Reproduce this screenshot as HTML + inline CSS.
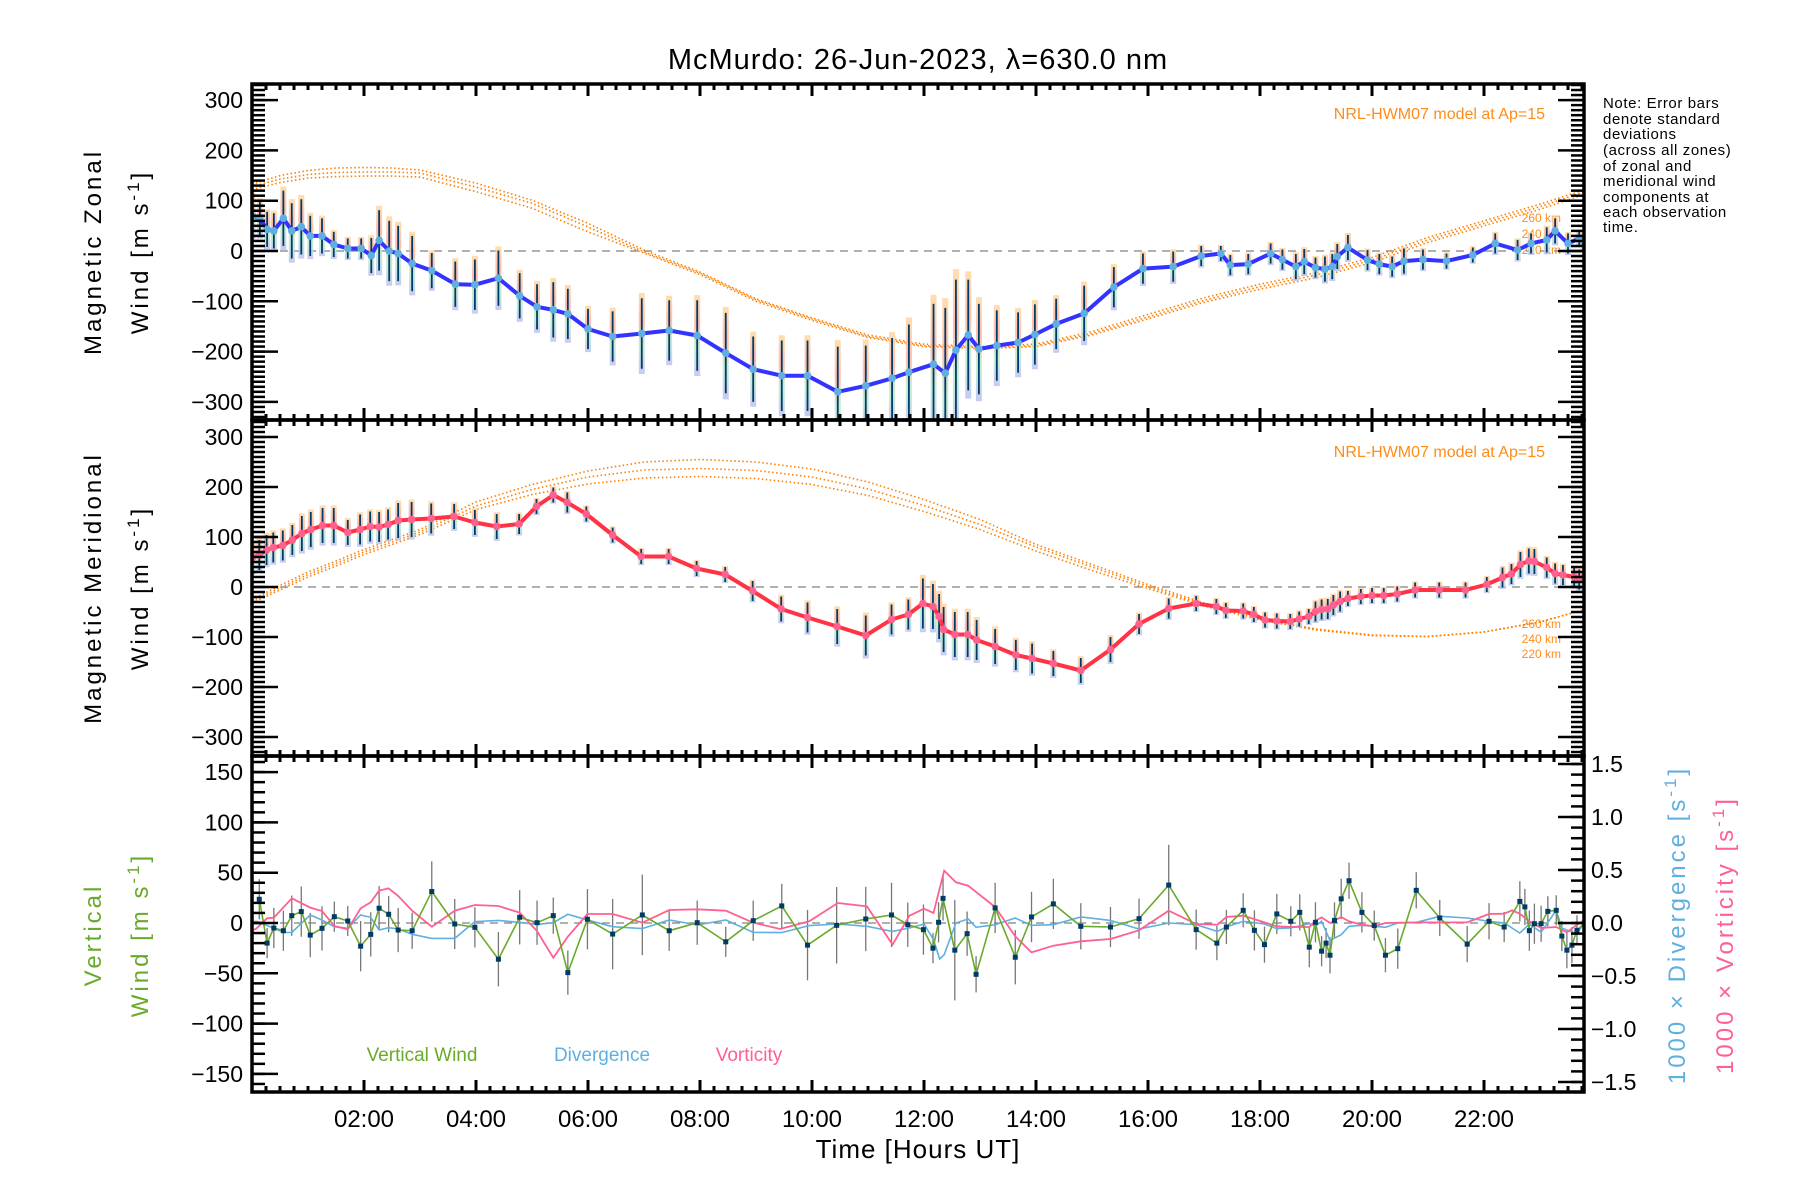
<!DOCTYPE html>
<html><head><meta charset="utf-8">
<style>
html,body{margin:0;padding:0;background:#fff;}
svg{display:block;font-family:"Liberation Sans",sans-serif;}
</style></head>
<body>
<svg id="chart" width="1800" height="1200" viewBox="0 0 1800 1200" xmlns="http://www.w3.org/2000/svg">
<defs>
<linearGradient id="pastel" x1="0" y1="0" x2="0" y2="1">
<stop offset="0" stop-color="#ffd9a0"/><stop offset="0.35" stop-color="#ffb0a0"/><stop offset="0.65" stop-color="#b8ecd0"/><stop offset="1" stop-color="#c0c0f0"/>
</linearGradient>
</defs>
<text x="918" y="69" font-size="29" text-anchor="middle" letter-spacing="1">McMurdo: 26-Jun-2023, λ=630.0 nm</text>
<g font-size="15" fill="#000" letter-spacing="0.6">
<text x="1603" y="108">Note: Error bars</text>
<text x="1603" y="124">denote standard</text>
<text x="1603" y="139">deviations</text>
<text x="1603" y="155">(across all zones)</text>
<text x="1603" y="171">of zonal and</text>
<text x="1603" y="186">meridional wind</text>
<text x="1603" y="202">components at</text>
<text x="1603" y="217">each observation</text>
<text x="1603" y="232">time.</text>
</g>
<g font-size="24" letter-spacing="3">
<text transform="translate(101,252) rotate(-90)" text-anchor="middle">Magnetic Zonal</text>
<text transform="translate(148,252) rotate(-90)" text-anchor="middle">Wind [m s<tspan dy="-9" font-size="17">-1</tspan><tspan dy="9">]</tspan></text>
</g>
<g font-size="24" letter-spacing="3">
<text transform="translate(101,588) rotate(-90)" text-anchor="middle">Magnetic Meridional</text>
<text transform="translate(148,588) rotate(-90)" text-anchor="middle">Wind [m s<tspan dy="-9" font-size="17">-1</tspan><tspan dy="9">]</tspan></text>
</g>
<g font-size="24" letter-spacing="3" fill="#6aaa2a">
<text transform="translate(101,935) rotate(-90)" text-anchor="middle">Vertical</text>
<text transform="translate(148,935) rotate(-90)" text-anchor="middle">Wind [m s<tspan dy="-9" font-size="17">-1</tspan><tspan dy="9">]</tspan></text>
</g>
<text font-size="24" letter-spacing="3" fill="#5fb0e0" transform="translate(1685,925) rotate(-90)" text-anchor="middle">1000 × Divergence [s<tspan dy="-9" font-size="17">-1</tspan><tspan dy="9">]</tspan></text>
<text font-size="24" letter-spacing="3" fill="#ff6090" transform="translate(1733,935) rotate(-90)" text-anchor="middle">1000 × Vorticity [s<tspan dy="-9" font-size="17">-1</tspan><tspan dy="9">]</tspan></text>
<text x="918" y="1172" font-size="26" text-anchor="middle" letter-spacing="1" transform="translate(0,-14)">Time [Hours UT]</text>
<g fill="#ff8c1a" text-anchor="end">
<text x="1545" y="119" font-size="16">NRL-HWM07 model at Ap=15</text>
<text x="1561" y="222" font-size="12">260 km</text>
<text x="1561" y="238" font-size="12">240 km</text>
<text x="1561" y="254" font-size="12">220 km</text>
</g>
<g fill="#ff8c1a" text-anchor="end">
<text x="1545" y="457" font-size="16">NRL-HWM07 model at Ap=15</text>
<text x="1561" y="628" font-size="12">260 km</text>
<text x="1561" y="643" font-size="12">240 km</text>
<text x="1561" y="658" font-size="12">220 km</text>
</g>
<g font-size="19" text-anchor="middle">
<text x="422" y="1061" fill="#6aaa2a">Vertical Wind</text>
<text x="602" y="1061" fill="#5fb0e0">Divergence</text>
<text x="749" y="1061" fill="#ff6090">Vorticity</text>
</g>
<g id="plot"></g>
</svg>
<script>
// ---- data ----
const modelHours=[0,0.5,1,1.5,2,2.5,3,4,5,6,7,8,9,10,11,12,13,14,15,16,17,18,19,20,21,22,23,23.8];
const modelZonal260=[133,150,160,165,166,165,161,135,101,55,2,-42,-95,-133,-167,-185,-190,-185,-160,-126,-93,-66,-43,-13,27,60,93,122];
const modelZonal240=[128,143,152,156,157,157,155,127,95,48,-2,-44,-97,-135,-170,-188,-192,-188,-164,-131,-98,-71,-48,-18,22,55,88,118];
const modelZonal220=[122,136,145,148,149,149,147,118,85,38,-4,-47,-100,-138,-172,-190,-194,-190,-167,-135,-102,-76,-53,-23,17,50,83,113];
const modelMerid260=[-25,3,30,52,75,95,115,170,205,232,250,255,250,236,210,175,135,85,45,5,-32,-62,-84,-96,-99,-90,-70,-45];
const modelMerid240=[-28,-2,25,47,70,90,110,162,195,220,234,237,233,220,196,163,125,80,40,1,-35,-64,-85,-97,-99,-90,-70,-45];
const modelMerid220=[-32,-6,20,42,65,85,105,155,185,206,218,221,217,205,183,151,115,72,33,-3,-38,-66,-86,-97,-99,-90,-70,-45];

const zonalHours=[0.01,0.14,0.27,0.39,0.56,0.71,0.88,1.04,1.25,1.46,1.71,1.95,2.13,2.27,2.45,2.61,2.86,3.21,3.63,3.98,4.4,4.78,5.09,5.38,5.64,6.0,6.44,6.96,7.45,7.95,8.46,8.95,9.46,9.92,10.46,10.96,11.43,11.73,12.17,12.38,12.57,12.79,12.98,13.3,13.68,13.98,14.36,14.86,15.39,15.91,16.45,16.95,17.3,17.47,17.79,18.19,18.4,18.64,18.79,18.99,19.16,19.29,19.38,19.57,19.92,20.13,20.36,20.57,20.91,21.33,21.8,22.2,22.6,22.84,23.12,23.27,23.5,23.7,23.78];
const zonalWind=[70,65,43,40,65,40,48,30,30,13,5,5,-9,21,0,-5,-25,-39,-66,-67,-54,-89,-111,-117,-125,-155,-170,-164,-158,-168,-203,-235,-248,-248,-280,-268,-253,-241,-225,-243,-197,-167,-195,-188,-182,-166,-145,-124,-72,-35,-31,-10,-5,-28,-26,-5,-17,-31,-21,-33,-36,-31,-11,7,-18,-26,-31,-20,-17,-20,-8,15,2,15,22,40,15,25,18];
const zonalErr=[40,35,35,35,55,55,55,40,35,25,20,20,35,60,60,55,55,35,45,50,55,45,45,55,50,40,50,70,60,70,80,65,70,70,90,80,80,95,120,130,140,110,90,70,60,60,50,55,40,30,30,20,15,20,20,20,20,25,25,20,25,25,25,25,20,20,20,25,20,15,15,20,20,20,25,25,20,15,15];

const meridHours=[0.01,0.13,0.26,0.38,0.55,0.72,0.89,1.05,1.26,1.46,1.71,1.93,2.11,2.27,2.43,2.61,2.85,3.2,3.61,3.98,4.37,4.77,5.08,5.38,5.63,5.97,6.44,6.95,7.44,7.94,8.45,8.94,9.45,9.92,10.45,10.96,11.42,11.72,11.98,12.16,12.27,12.35,12.55,12.78,12.94,13.27,13.64,13.93,14.31,14.8,15.33,15.84,16.37,16.86,17.22,17.39,17.7,17.89,18.09,18.3,18.54,18.7,18.87,18.99,19.1,19.21,19.31,19.43,19.57,19.8,20.0,20.21,20.45,20.77,21.2,21.67,22.05,22.33,22.49,22.65,22.8,22.9,23.12,23.27,23.41,23.61,23.7,23.8];
const meridWind=[59,64,74,79,83,94,107,115,123,123,109,115,121,120,125,133,135,137,141,129,121,126,161,184,169,146,104,61,61,37,25,-8,-44,-61,-79,-97,-65,-55,-33,-39,-59,-85,-95,-95,-106,-119,-136,-143,-153,-167,-125,-74,-43,-33,-39,-47,-48,-55,-66,-68,-69,-64,-59,-49,-45,-44,-36,-29,-23,-19,-17,-17,-14,-6,-6,-6,5,19,26,45,52,51,39,27,24,20,15,24];
const meridErr=[30,30,30,30,30,30,35,35,35,35,25,30,30,30,30,35,35,30,25,25,25,20,15,15,20,15,15,15,15,15,15,20,25,30,35,40,30,30,50,45,45,45,45,45,40,35,30,30,25,25,25,20,20,15,15,15,15,15,15,15,15,15,15,20,20,20,20,20,15,15,15,15,15,15,15,15,15,20,20,25,25,25,20,20,20,20,20,20];

const vertHours=[0.13,0.27,0.39,0.56,0.71,0.88,1.04,1.25,1.47,1.71,1.94,2.12,2.27,2.44,2.61,2.86,3.21,3.62,3.98,4.4,4.78,5.09,5.38,5.64,5.99,6.44,6.97,7.45,7.95,8.46,8.95,9.46,9.92,10.44,10.96,11.42,11.71,11.99,12.16,12.26,12.34,12.55,12.77,12.93,13.27,13.63,13.92,14.31,14.8,15.33,15.84,16.37,16.86,17.23,17.4,17.7,17.9,18.08,18.3,18.55,18.71,18.88,18.99,19.1,19.18,19.25,19.33,19.45,19.59,19.82,20.04,20.24,20.46,20.79,21.21,21.7,22.09,22.36,22.64,22.73,22.81,22.9,23.02,23.14,23.29,23.39,23.48,23.57,23.66,23.8];
const vertWind=[23.6,-20,-5,-7.7,7.3,11.3,-12,-5.3,6.3,2,-23,-11.3,14.7,8.7,-7,-7.7,31.3,-1,-4.3,-36,5.7,0.3,7.3,-49.3,3.7,-11,8,-7.7,0.3,-18.7,2.3,17,-22,-2.3,4,8,-1.7,-6.6,-25,0.7,24.5,-27,-10.6,-51,15,-34,6,19,-3.3,-4,4.3,37.7,-6.6,-20,-4,12.6,-7.3,-21.5,9,1.7,10.6,-24,0.7,-28,-20,-32,2.6,24,42,10.6,-2.6,-32,-25.5,32.5,5,-21,1.7,-4,21.5,16,-7.6,-0.7,-0.7,11.6,12.6,-13,-27,-22,-7.3,0];
const vertErr=[20,15,20,20,20,25,22,22,15,15,25,22,22,18,22,18,30,25,20,27,27,22,18,22,30,35,40,20,22,15,20,22,35,38,32,32,22,25,15,20,22,50,22,18,25,27,25,25,23,20,20,40,20,17,17,17,20,18,20,15,18,20,20,15,15,18,18,20,18,20,15,17,20,18,18,18,18,15,20,18,20,20,18,15,15,15,18,18,15,15];

const divHours=[0.01,0.1,0.39,0.56,0.71,1.04,1.25,1.47,1.71,1.94,2.12,2.27,2.44,2.61,2.86,3.21,3.62,3.98,4.4,4.78,5.09,5.38,5.64,5.99,6.44,6.97,7.45,7.95,8.46,8.95,9.46,9.95,10.46,10.98,11.44,11.74,12.0,12.17,12.28,12.36,12.57,12.79,12.93,13.27,13.63,13.92,14.31,14.8,15.33,15.84,16.37,16.86,17.24,17.4,17.7,18.08,18.3,18.55,18.88,18.99,19.1,19.25,19.45,19.59,19.82,20.04,20.24,20.46,20.79,21.21,21.7,22.09,22.36,22.64,22.81,23.02,23.29,23.39,23.57,23.66,23.8];
const divergence=[.013,.013,-.05,-.09,-.09,.075,.028,-.035,-.05,.075,.053,-.066,-.044,-.057,-.107,-.145,-.145,.013,.025,.006,-.013,.003,.082,.028,-.035,-.053,.028,-.019,.028,-.088,-.091,-.025,-.009,-.031,-.079,-.047,-.009,-.157,-.34,-.299,0,.038,-.041,-.016,.047,-.022,-.016,.057,.025,-.057,0,-.016,-.079,-.038,.016,-.009,-.053,-.047,-.006,-.031,.016,-.164,-.11,-.031,-.022,-.031,-.041,0,.006,.063,.047,.016,0,-.094,-.009,-.088,.119,-.047,-.085,-.094,0];

const vortHours=[0.01,0.07,0.27,0.39,0.71,1.04,1.25,1.47,1.71,1.94,2.12,2.27,2.44,2.61,2.86,3.21,3.62,3.98,4.4,4.78,5.09,5.38,5.64,5.99,6.44,6.97,7.45,7.95,8.46,8.95,9.43,9.95,10.46,10.98,11.44,11.74,12.0,12.17,12.36,12.57,12.79,13.27,13.63,13.92,14.31,14.8,15.33,15.84,16.37,16.86,17.24,17.4,17.7,18.08,18.3,18.55,18.88,18.99,19.1,19.25,19.45,19.59,19.82,20.04,20.24,20.79,21.7,22.09,22.36,22.5,22.64,22.81,23.02,23.29,23.48,23.66,23.8];
const vorticity=[-.066,-.057,.044,.05,.233,.145,.113,-.028,-.06,.138,.195,.305,.327,.255,.116,-.035,.116,.17,.16,.097,-.075,-.327,-.129,.085,.085,.003,.123,.129,.116,.003,-.057,.016,.189,.157,-.204,.069,.135,.094,.494,.384,.352,.151,-.126,-.277,-.214,-.173,-.151,-.069,.116,-.009,-.016,.057,.069,.006,-.031,-.038,-.038,.022,.053,0,.057,.016,-.016,-.031,0,.006,.006,.085,.088,.119,.088,.016,-.047,-.038,-.088,-.016,.031];

const majorTickHours=[2,4,6,8,10,12,14,16,18,20,22];
const xTickLabels=["02:00","04:00","06:00","08:00","10:00","12:00","14:00","16:00","18:00","20:00","22:00"];
const windTicks=[-300,-200,-100,0,100,200,300];
const windTickLabels=["\u2212300","\u2212200","\u2212100","0","100","200","300"];
const vertTicks=[-150,-100,-50,0,50,100,150];
const vertTickLabels=["\u2212150","\u2212100","\u221250","0","50","100","150"];
const rightTicks=[-1.5,-1.0,-0.5,0,0.5,1.0,1.5];
const rightTickLabels=["\u22121.5","\u22121.0","\u22120.5","0.0","0.5","1.0","1.5"];

// ---- layout ----
const L=252,R=1584;
const P=[{top:84,bot:420,zero:251,k:0.503},{top:420,bot:756,zero:587,k:0.5},{top:756,bot:1092,zero:923,k:1.006}];
const X=h=>L+56*h;
const Y1=v=>P[0].zero-v*P[0].k;
const Y2=v=>P[1].zero-v*P[1].k;
const Y3=v=>P[2].zero-v*P[2].k;
const YR=v=>923-v*106;
const NS="http://www.w3.org/2000/svg";
const plot=document.getElementById('plot');
function mk(tag,attrs,parent){const e=document.createElementNS(NS,tag);for(const k in attrs)e.setAttribute(k,attrs[k]);(parent||plot).appendChild(e);return e;}
function grp(name){const g=mk('g',{});


return g;}
function pts(hs,vs,Y){return hs.map((h,i)=>X(h).toFixed(1)+','+Y(vs[i]).toFixed(1)).join(' ');}

const defs=document.querySelector('defs');
P.forEach((p,i)=>{const c=mk('clipPath',{id:'clip'+i},defs);mk('rect',{x:L,y:p.top,width:R-L,height:p.bot-p.top},c);});

P.forEach((p,i)=>{const l=mk('line',{x1:L,x2:R,y1:p.zero,y2:p.zero,stroke:'#808080','stroke-width':1.3,'stroke-dasharray':'8,6'});

});

function modelCurve(arr,Y,ci,name){const g=grp(name);g.setAttribute('clip-path','url(#clip'+ci+')');
mk('polyline',{points:pts(modelHours,arr,Y),fill:'none',stroke:'#ff8000','stroke-width':1.6,'stroke-dasharray':'1.5,2.5'},g);}
modelCurve(modelZonal260,Y1,0,'model-zonal-260km');
modelCurve(modelZonal240,Y1,0,'model-zonal-240km');
modelCurve(modelZonal220,Y1,0,'model-zonal-220km');
modelCurve(modelMerid260,Y2,1,'model-meridional-260km');
modelCurve(modelMerid240,Y2,1,'model-meridional-240km');
modelCurve(modelMerid220,Y2,1,'model-meridional-220km');

function windSeries(hs,vs,es,Y,ci,lineColor,dotColor,name){
  const gb=grp(name+'-error-bars');gb.setAttribute('clip-path','url(#clip'+ci+')');
  hs.forEach((h,i)=>{const x=X(h);
    mk('rect',{x:x-3,y:Y(vs[i]+es[i]*1.15),width:6,height:Y(vs[i]-es[i]*1.15)-Y(vs[i]+es[i]*1.15),fill:'url(#pastel)',opacity:0.85},gb);
    mk('line',{x1:x,x2:x,y1:Y(vs[i]+es[i]),y2:Y(vs[i]-es[i]),stroke:'#003a66','stroke-width':1.8},gb);});
  const gl=grp(name+'-line');gl.setAttribute('clip-path','url(#clip'+ci+')');
  mk('polyline',{points:pts(hs,vs,Y),fill:'none',stroke:lineColor,'stroke-width':4,'stroke-linejoin':'round'},gl);
  hs.forEach((h,i)=>{const c=mk('circle',{cx:X(h),cy:Y(vs[i]),r:3.8,fill:dotColor},gl);
    
    });
}
windSeries(zonalHours,zonalWind,zonalErr,Y1,0,'#3333ff','#5fb0e0','zonal-wind');
windSeries(meridHours,meridWind,meridErr,Y2,1,'#ff3344','#ff6090','meridional-wind');

const g3=grp('vertical-panel');g3.setAttribute('clip-path','url(#clip2)');
vertHours.forEach((h,i)=>{const l=mk('line',{x1:X(h),x2:X(h),y1:Y3(vertWind[i]+vertErr[i]),y2:Y3(vertWind[i]-vertErr[i]),stroke:'#777','stroke-width':1.3},g3);

});
const dl=mk('polyline',{points:pts(divHours,divergence,YR),fill:'none',stroke:'#5fb0e0','stroke-width':1.6},g3);


const vl=mk('polyline',{points:pts(vortHours,vorticity,YR),fill:'none',stroke:'#ff6090','stroke-width':1.8},g3);


const wl=mk('polyline',{points:pts(vertHours,vertWind,Y3),fill:'none',stroke:'#6aaa2a','stroke-width':1.6},g3);


vertHours.forEach((h,i)=>{const r=mk('rect',{x:X(h)-2.5,y:Y3(vertWind[i])-2.5,width:5,height:5,fill:'#003a66'},g3);

});

const ax=grp('axes');
P.forEach(p=>{mk('rect',{x:L,y:p.top,width:R-L,height:p.bot-p.top,fill:'none',stroke:'#000','stroke-width':3.5},ax);});
function yTicks(p,Y,vmin,vmax,minorStep,majors,labels,side){
  const g=ax;
  for(let v=vmin;v<=vmax+1e-9;v+=minorStep){const y=Y(v);if(y<p.top+1||y>p.bot-1)continue;
    if(side==='L')mk('line',{x1:L,x2:L+13,y1:y,y2:y,stroke:'#000','stroke-width':2.5},g);
    else mk('line',{x1:R-13,x2:R,y1:y,y2:y,stroke:'#000','stroke-width':2.5},g);}
  majors.forEach((v,i)=>{const y=Y(v);
    if(side==='L'){mk('line',{x1:L,x2:L+26,y1:y,y2:y,stroke:'#000','stroke-width':2.5},g);
      const t=mk('text',{x:243,y:y+8,'font-size':23,'text-anchor':'end'},g);t.textContent=labels[i];}
    else{mk('line',{x1:R-26,x2:R,y1:y,y2:y,stroke:'#000','stroke-width':2.5},g);
      if(labels){const t=mk('text',{x:1591,y:y+8,'font-size':23,'text-anchor':'start'},g);t.textContent=labels[i];}}
  });
}
yTicks(P[0],Y1,-330,330,10,windTicks,windTickLabels,'L');
yTicks(P[0],Y1,-330,330,10,windTicks,null,'R');
yTicks(P[1],Y2,-330,330,10,windTicks,windTickLabels,'L');
yTicks(P[1],Y2,-330,330,10,windTicks,null,'R');
yTicks(P[2],Y3,-160,160,10,vertTicks,vertTickLabels,'L');
yTicks(P[2],YR,-1.5,1.5,0.1,rightTicks,rightTickLabels,'R');
P.forEach(p=>{
  for(let h=0.25;h<23.8;h+=0.25){const x=X(h);const maj=Math.abs(h/2-Math.round(h/2))<1e-6;const len=maj?12:6;
    mk('line',{x1:x,x2:x,y1:p.top,y2:p.top+len,stroke:'#000','stroke-width':3},ax);
    mk('line',{x1:x,x2:x,y1:p.bot,y2:p.bot-len,stroke:'#000','stroke-width':3},ax);}
});
majorTickHours.forEach((h,i)=>{const t=mk('text',{x:X(h),y:1127,'font-size':24,'text-anchor':'middle'},ax);t.textContent=xTickLabels[i];});
</script>
</body></html>
